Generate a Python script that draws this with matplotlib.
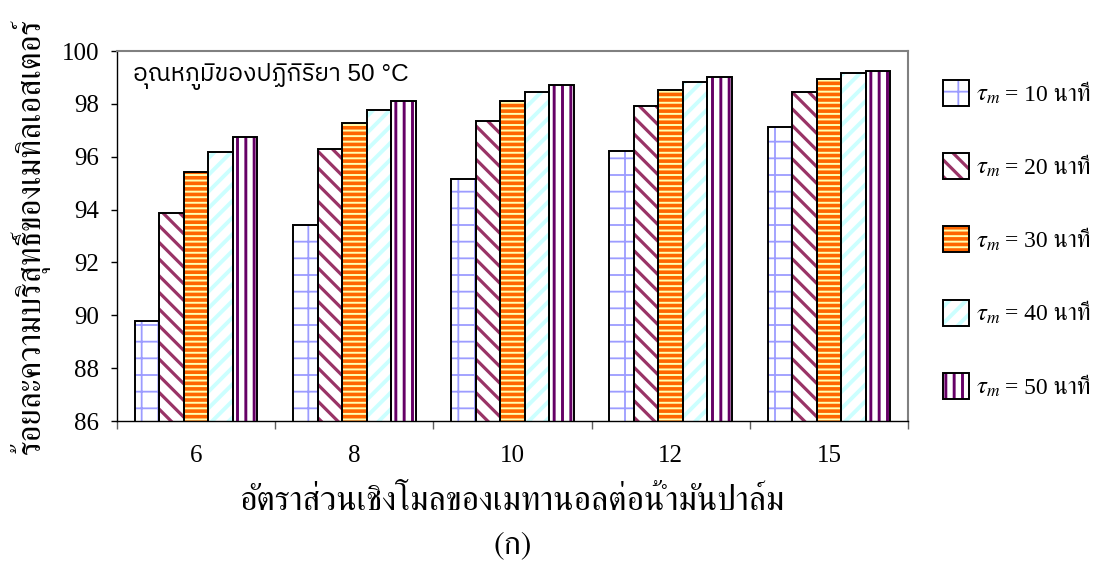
import numpy as np
import matplotlib
matplotlib.use("Agg")
import matplotlib.pyplot as plt
from matplotlib import font_manager
from matplotlib.ft2font import FT2Font
from matplotlib.font_manager import FontProperties
from matplotlib.legend_handler import HandlerBase
from matplotlib.patches import Rectangle
from matplotlib.text import Text

# Chart data
molar_ratios   = ["6", "8", "10", "12", "15"]
purity_tau10   = [89.78, 93.42, 95.15, 96.22, 97.11]
purity_tau20   = [93.86, 96.29, 97.35, 97.93, 98.46]
purity_tau30   = [95.43, 97.26, 98.10, 98.54, 98.93]
purity_tau40   = [96.19, 97.78, 98.46, 98.84, 99.15]
purity_tau50   = [96.73, 98.10, 98.71, 99.00, 99.23]
series_labels  = ["= 10 นาที", "= 20 นาที", "= 30 นาที", "= 40 นาที", "= 50 นาที"]
y_ticks        = [86, 88, 90, 92, 94, 96, 98, 100]

x_label_text   = "อัตราส่วนเชิงโมลของเมทานอลต่อน้ำมันปาล์ม"
y_label_text   = "ร้อยละความบริสุทธิ์ของเมทิลเอสเตอร์"
note_text      = "อุณหภูมิของปฏิกิริยา 50 °C"
panel_text     = "(ก)"

# (face colour, hatch colour, hatch, hatch linewidth)
BAR_STYLES = [
    ("white",   "#9C9CFF", "+",     1.3),
    ("white",   "#993366", "\\\\",  2.3),
    ("#FF6600", "#FFFFB0", "---",   1.4),
    ("white",   "#CCFFFF", "//",    2.8),
    ("white",   "#660066", "||",    2.1),
]

FIG_W, FIG_H = 1115, 566


def find_thai_fonts():
    names = []
    for entry in font_manager.fontManager.ttflist:
        try:
            cmap = FT2Font(entry.fname).get_charmap()
        except Exception:
            continue
        if 0x0E01 in cmap and 0x0E49 in cmap and entry.name not in names:
            names.append(entry.name)
    return names


def pick(names, keys):
    for key in keys:
        for n in names:
            if key.lower() in n.lower():
                return n
    return names[0] if names else "DejaVu Sans"


thai_fonts = find_thai_fonts()
thai_serif = pick(thai_fonts, ["Serif", "Norasi", "Kinnari", "Sarabun", "Angsana", "Garuda"])
thai_sans = pick(thai_fonts, ["Sans", "Loma", "Tahoma", "Waree", "Umpush"])

plt.rcParams["mathtext.fontset"] = "stix"
serif_family = ["Liberation Serif", thai_serif, "DejaVu Sans"]
sans_family = ["Liberation Sans", thai_sans, "DejaVu Sans"]


def set_hatch_width(patch, lw):
    if hasattr(patch, "set_hatch_linewidth"):
        patch.set_hatch_linewidth(lw)


class TauHandler(HandlerBase):
    """Square swatch followed by an italic tau_m, like the original legend."""

    def __init__(self, style):
        super().__init__()
        self.style = style

    def create_artists(self, legend, orig_handle, xdescent, ydescent,
                       width, height, fontsize, trans):
        face, hcolor, hatch, hlw = self.style
        side = height
        x0, y0 = -xdescent, -ydescent
        plt.rcParams["hatch.linewidth"] = hlw
        back = Rectangle((x0, y0), side, side, facecolor=face, edgecolor=hcolor,
                         hatch=hatch, linewidth=0, transform=trans)
        set_hatch_width(back, hlw)
        front = Rectangle((x0, y0), side, side, facecolor="none",
                          edgecolor="black", linewidth=1.4, transform=trans)
        tau = Text(x0 + side + 5, 0, r"$\tau_m$", fontsize=fontsize * 1.05,
                   va="baseline", ha="left", transform=trans)
        return [back, front, tau]


fig = plt.figure(figsize=(FIG_W / 100, FIG_H / 100), dpi=100)
ax = fig.add_axes([117 / FIG_W, 1 - 421 / FIG_H, (908 - 117) / FIG_W, (421 - 51) / FIG_H])

all_series = [purity_tau10, purity_tau20, purity_tau30, purity_tau40, purity_tau50]
x = np.arange(len(molar_ratios))
bar_w = 0.155
handles = []
for i, (values, style) in enumerate(zip(all_series, BAR_STYLES)):
    face, hcolor, hatch, hlw = style
    pos = x + (i - 2) * bar_w
    plt.rcParams["hatch.linewidth"] = hlw
    back = ax.bar(pos, values, bar_w, color=face, edgecolor=hcolor,
                  hatch=hatch, linewidth=0, zorder=2)
    for p in back:
        set_hatch_width(p, hlw)
    ax.bar(pos, values, bar_w, facecolor="none", edgecolor="black",
           linewidth=1.4, zorder=3)
    handles.append(back[0])

ax.set_xlim(-0.5, len(molar_ratios) - 0.5)
ax.set_ylim(86, 100)
ax.set_yticks(y_ticks)
ax.set_xticks(np.arange(-0.5, len(molar_ratios)), labels=[])
ax.set_xticks(x, labels=molar_ratios, minor=True)
ax.tick_params(axis="x", which="minor", length=0, pad=17, labelsize=18)
ax.tick_params(axis="x", which="major", length=6, width=1, color="#606060")
ax.tick_params(axis="y", length=4, width=1, pad=9, labelsize=18)
for lab in ax.get_xticklabels(minor=True) + ax.get_yticklabels():
    lab.set_family(serif_family)

for side in ("top", "right"):
    ax.spines[side].set_color("#808080")
    ax.spines[side].set_linewidth(1.5)
for side in ("left", "bottom"):
    ax.spines[side].set_color("black")
    ax.spines[side].set_linewidth(1.0)

note = ax.text(0.02, 0.932, note_text, transform=ax.transAxes,
               family=sans_family, fontsize=15.5, va="center", ha="left")

ax.set_xlabel(x_label_text, family=[thai_serif, "DejaVu Sans"], fontsize=20)
ax.xaxis.set_label_coords(0.5, (421 - 502) / 370)
ax.xaxis.label.set_va("center")
ax.set_ylabel(y_label_text, family=[thai_serif, "DejaVu Sans"], fontsize=20)
ax.yaxis.set_label_coords((30 - 117) / 791, 0.5)
ax.yaxis.label.set_va("center")

panel = fig.text(512.5 / FIG_W, 1 - 546 / FIG_H, panel_text,
                 family=[thai_serif, "DejaVu Sans"], fontsize=20,
                 ha="center", va="center")

handler_map = {h: TauHandler(s) for h, s in zip(handles, BAR_STYLES)}
ax.legend(handles, series_labels, handler_map=handler_map, loc="upper left",
          bbox_to_anchor=(943 / FIG_W, 1 - 80 / FIG_H), bbox_transform=fig.transFigure,
          frameon=False, borderpad=0, borderaxespad=0, handlelength=2.62,
          handleheight=1.315, handletextpad=0, labelspacing=2.0,
          prop=FontProperties(family=serif_family, size=17))

# scale the Thai texts to the widths seen in the reference
fig.canvas.draw()
renderer = fig.canvas.get_renderer()
for txt, target, vertical in [(ax.xaxis.label, 546, False),
                              (ax.yaxis.label, 435, True),
                              (note, 275, False)]:
    bb = txt.get_window_extent(renderer)
    size = bb.height if vertical else bb.width
    txt.set_fontsize(txt.get_fontsize() * target / size)
panel.set_fontsize(ax.xaxis.label.get_fontsize() * 0.95)

fig.savefig("out.png", dpi=100)
